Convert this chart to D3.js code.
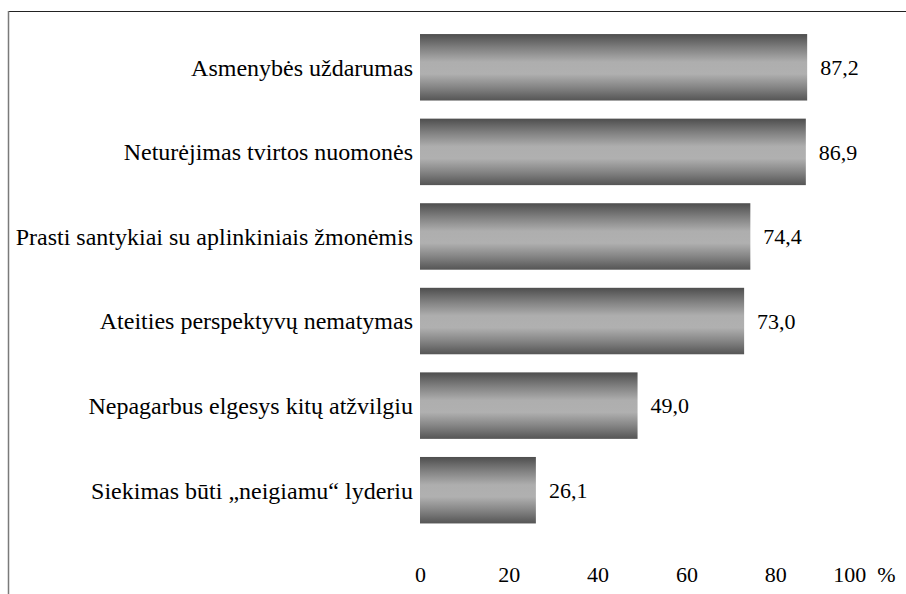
<!DOCTYPE html>
<html>
<head>
<meta charset="utf-8">
<script src="https://cdn.jsdelivr.net/npm/d3@7"></script>
<style>
	body { margin: 0; background: #fff; position: relative; }
	#fontwarm { position: absolute; left: -2000px; top: 0; font-family: 'Liberation Serif'; font-size: 24px; }
</style>
</head>
<body>
<div id="fontwarm">Asmenybės uždarumas 87,2 „neigiamu“ 100 %</div>
<div id="chart"></div>
<script>
/* Data. */
const categories = [
	'Asmenybės uždarumas',
	'Neturėjimas tvirtos nuomonės',
	'Prasti santykiai su aplinkiniais žmonėmis',
	'Ateities perspektyvų nematymas',
	'Nepagarbus elgesys kitų atžvilgiu',
	'Siekimas būti „neigiamu“ lyderiu'
];
const values = [87.2, 86.9, 74.4, 73.0, 49.0, 26.1];
const tickValues = [0, 20, 40, 60, 80, 100];
const tickLabels = ['0', '20', '40', '60', '80', '100  %'];

const FONT = 'Liberation Serif';

/**
 * Creates the bar chart.
 */
function createBarChart() {
	const width = 906;
	const height = 594;

	let svg = d3.select('#chart').append('svg')
		.attr('width', width)
		.attr('height', height)
		.style('display', 'block');

	/* Bar gradient. */
	let grad = svg.append('defs').append('linearGradient')
		.attr('id', 'barGrad')
		.attr('x1', 0).attr('y1', 0)
		.attr('x2', 0).attr('y2', 1);
	[[0, '#4e4e4e'], [0.2, '#7e7e7e'], [0.42, '#aeaeae'], [0.6, '#b0b0b0'], [0.8, '#858585'], [1, '#555555']]
		.forEach(function(s) {
			grad.append('stop').attr('offset', s[0]).attr('stop-color', s[1]);
		});

	/* Frame. */
	svg.append('line')
		.attr('x1', 8).attr('x2', width)
		.attr('y1', 11.5).attr('y2', 11.5)
		.attr('stroke', '#222').attr('stroke-width', 1);
	svg.append('line')
		.attr('x1', 8.5).attr('x2', 8.5)
		.attr('y1', 11).attr('y2', height)
		.attr('stroke', '#7a7a7a').attr('stroke-width', 1.5);

	/* Scales. */
	let xScale = d3.scaleLinear()
		.domain([0, 100])
		.range([420, 864]);
	let yScale = d3.scaleBand()
		.domain(categories)
		.range([25, 532.5])
		.paddingInner(0.214)
		.paddingOuter(0.107);

	/* Bars. */
	svg.selectAll('.bar')
			.data(values)
		.enter().append('rect')
			.attr('class', 'bar')
			.attr('x', xScale(0))
			.attr('y', function(_, i) { return yScale(categories[i]); })
			.attr('width', function(d) { return xScale(d) - xScale(0); })
			.attr('height', yScale.bandwidth())
			.attr('fill', 'url(#barGrad)');

	/* Category labels. */
	svg.selectAll('.cat')
			.data(categories)
		.enter().append('text')
			.attr('class', 'cat')
			.attr('x', 413)
			.attr('y', function(d) { return yScale(d) + yScale.bandwidth() / 2; })
			.attr('dy', '0.35em')
			.attr('text-anchor', 'end')
			.attr('font-family', FONT)
			.attr('font-size', 24)
			.text(function(d) { return d; });

	/* Value labels. */
	svg.selectAll('.val')
			.data(values)
		.enter().append('text')
			.attr('class', 'val')
			.attr('x', function(d) { return xScale(d) + 13; })
			.attr('y', function(_, i) { return yScale(categories[i]) + yScale.bandwidth() / 2; })
			.attr('dy', '0.35em')
			.attr('font-family', FONT)
			.attr('font-size', 22)
			.text(function(d) { return d.toFixed(1).replace('.', ','); });

	/* X axis labels. */
	let axis = d3.axisBottom(xScale)
		.tickValues(tickValues)
		.tickSize(0)
		.tickPadding(0)
		.tickFormat(function(_, i) { return tickLabels[i]; });
	let g = svg.append('g')
		.attr('transform', 'translate(0,566)')
		.call(axis);
	g.select('.domain').remove();
	g.attr('font-family', FONT).attr('font-size', 22);
	g.selectAll('text')
		.attr('dy', '0.71em')
		.attr('font-family', FONT)
		.attr('font-size', 22)
		.style('white-space', 'pre')
		.attr('fill', '#000');

	/* Re-apply the font once it is ready. */
	if (document.fonts && document.fonts.load) {
		document.fonts.load('24px "Liberation Serif"').then(function() {
			svg.selectAll('text').attr('font-family', null).attr('font-family', FONT);
		});
	}
}

createBarChart();
</script>
</body>
</html>
